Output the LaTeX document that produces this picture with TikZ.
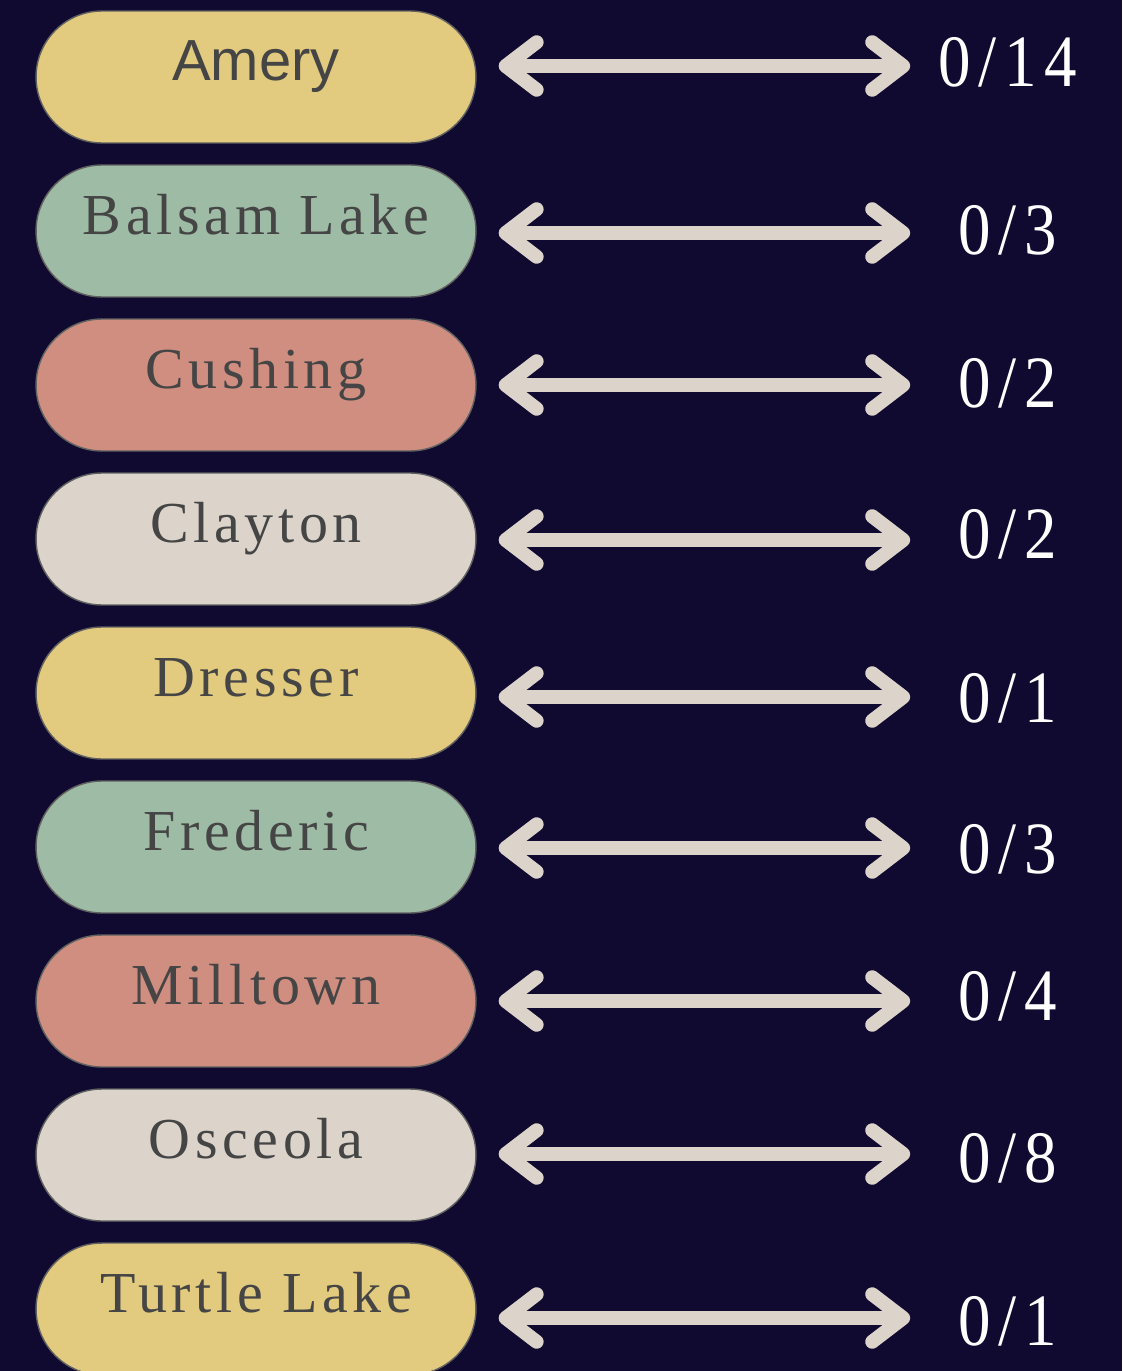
\documentclass[tikz,border=0pt]{standalone}
\usepackage{fontspec}
\usepackage{graphicx}
\usetikzlibrary{shapes.misc,arrows.meta}
\newfontfamily\pillsans{Liberation Sans}
\newfontfamily\pillserif[LetterSpace=8]{Liberation Serif}
\newfontfamily\countserif[LetterSpace=12]{Liberation Serif}
\definecolor{night}{HTML}{100A30}
\definecolor{sand}{HTML}{E2CA7E}
\definecolor{sage}{HTML}{9DBBA5}
\definecolor{clay}{HTML}{CF8E80}
\definecolor{linen}{HTML}{DCD4CB}
\definecolor{ink}{HTML}{454545}
\begin{document}
\begin{tikzpicture}[x=0.02cm, y=-0.02cm]
    \tikzstyle{pill} = [rounded rectangle, draw=ink!85, line width=0.8pt, minimum width=8.8cm, minimum height=2.64cm, text=ink, text height=0.8cm, text depth=0.66cm, inner sep=0pt]
    \tikzstyle{count} = [text=white, minimum width=3.3cm, text height=1.02cm, text depth=0pt, inner sep=0pt, font=\countserif\fontsize{42}{48}\selectfont]
    \tikzstyle{twoway} = [{Straight Barb[length=0.62cm,width=0.95cm,round]}-{Straight Barb[length=0.62cm,width=0.95cm,round]}, draw=linen, line width=0.28cm, shorten <=0.44cm, shorten >=0.3cm]
    \fill[night] (0,0) rectangle (1122,1371);
    \useasboundingbox (0,0) rectangle (1122,1371);
    \foreach \i/\town/\face/\shade/\py/\ay/\cy/\total in {
        1/Amery/\pillsans/sand/77/66/61/14,
        2/Balsam Lake/\pillserif/sage/231/233/229/3,
        3/Cushing/\pillserif/clay/385/385/382/2,
        4/Clayton/\pillserif/linen/539/540/533/2,
        5/Dresser/\pillserif/sand/693/697/697/1,
        6/Frederic/\pillserif/sage/847/848/848/3,
        7/Milltown/\pillserif/clay/1001/1001/995/4,
        8/Osceola/\pillserif/linen/1155/1154/1157/8,
        9/Turtle Lake/\pillserif/sand/1309/1318/1320/1}
    {
        \node[pill, fill=\shade, font=\face\fontsize{33}{36}\selectfont] (p\i) at (256,\py) {\town};
        \node[count] (c\i) at (1008,\cy) {\scalebox{0.88}[1]{0/\total}};
        \coordinate (a\i) at (p\i.east |- 0,\ay);
        \draw[twoway] (a\i) -- (c\i.west |- a\i);
    }
\end{tikzpicture}
\end{document}
